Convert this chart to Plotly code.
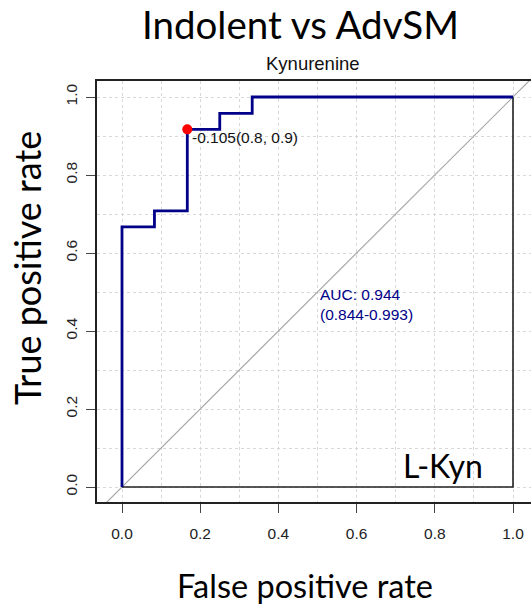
import plotly.graph_objects as go

# ROC vertices (false positive rate, true positive rate)
fpr = [0.0, 0.0, 0.083, 0.167, 0.25, 0.333, 1.0]
tpr = [0.0, 0.667, 0.708, 0.917, 0.958, 1.0, 1.0]

# best threshold point
best_fpr = [0.167]
best_tpr = [0.917]
best_label = "-0.105(0.8, 0.9)"

auc_text = ["AUC: 0.944", "(0.844-0.993)"]
tick_vals = [0.0, 0.2, 0.4, 0.6, 0.8, 1.0]
tick_text = ["0.0", "0.2", "0.4", "0.6", "0.8", "1.0"]

W, H = 531, 604
ML, MR, MT, MB = 97, 0, 81, 102
PW, PH = W - ML - MR, H - MT - MB


def px(xp):
    return (xp - ML) / PW


def py(yp):
    return (H - MB - yp) / PH


NAVY = "#000088"
CAL = "Lato, 'Open Sans', sans-serif"
ARIAL = "'Liberation Sans', Arial, sans-serif"

fig = go.Figure()

# diagonal reference line
fig.add_trace(go.Scatter(x=[-0.1, 1.2], y=[-0.1, 1.2], mode="lines",
                         line=dict(color="#a8a8a8", width=1.2), hoverinfo="skip",
                         showlegend=False))
# inner frame (bottom and right)
fig.add_trace(go.Scatter(x=[0, 1, 1], y=[0, 0, 1], mode="lines",
                         line=dict(color="#222222", width=1.6), hoverinfo="skip",
                         showlegend=False))
# ROC curve
fig.add_trace(go.Scatter(x=fpr, y=tpr, mode="lines", line_shape="hv",
                         line=dict(color=NAVY, width=2.8), showlegend=False))
# best point
fig.add_trace(go.Scatter(x=best_fpr, y=best_tpr, mode="markers",
                         marker=dict(color="#ff0000", size=10), showlegend=False))

fig.add_annotation(x=best_fpr[0], y=best_tpr[0], xref="x", yref="y",
                   text=best_label, showarrow=False, xanchor="left", yanchor="top",
                   xshift=3, yshift=2,
                   font=dict(family=ARIAL, size=15.5, color="#111111"))

fig.add_annotation(x=0.5, y=0.5, xref="x", yref="y",
                   text="<br>".join(auc_text), showarrow=False, xanchor="left",
                   yanchor="top", align="left", yshift=8,
                   font=dict(family=ARIAL, size=15.5, color=NAVY))

fig.add_annotation(x=px(443), y=py(465), xref="paper", yref="paper",
                   text="L-Kyn", showarrow=False, xanchor="center", yanchor="middle",
                   font=dict(family=CAL, size=32, color="#000000"))

# titles
fig.add_annotation(x=px(300), y=py(24), xref="paper", yref="paper",
                   text="Indolent vs AdvSM", showarrow=False, xanchor="center",
                   yanchor="middle", font=dict(family=CAL, size=38.5, color="#000000"))
fig.add_annotation(x=px(313), y=py(63), xref="paper", yref="paper",
                   text="Kynurenine", showarrow=False, xanchor="center",
                   yanchor="middle", font=dict(family=ARIAL, size=18.5, color="#111111"))
fig.add_annotation(x=px(305), y=py(585), xref="paper", yref="paper",
                   text="False positive rate", showarrow=False, xanchor="center",
                   yanchor="middle", font=dict(family=CAL, size=32.5, color="#000000"))
fig.add_annotation(x=px(27), y=py(268), xref="paper", yref="paper",
                   text="True positive rate", showarrow=False, xanchor="center",
                   yanchor="middle", textangle=-90,
                   font=dict(family=CAL, size=36, color="#000000"))

grid = dict(showgrid=True, gridcolor="#d8d8d8", griddash="dot", gridwidth=1)
minor = dict(dtick=0.1, tick0=0, showgrid=True, gridcolor="#d8d8d8",
             griddash="dot", gridwidth=1, ticks="")

fig.update_xaxes(range=[(ML - 122) / 391, (W - 122) / 391], tickvals=tick_vals,
                 ticktext=tick_text, ticks="outside", ticklen=9, tickwidth=1.3,
                 tickcolor="#444444", showline=True, linecolor="#222222",
                 linewidth=1.6, mirror=True, zeroline=False, minor=minor,
                 ticklabelstandoff=8,
                 tickfont=dict(family=ARIAL, size=15.5, color="#222222"), **grid)
fig.update_yaxes(range=[(487 - (H - MB)) / 390, (487 - MT) / 390], tickvals=tick_vals,
                 ticktext=tick_text, ticks="outside", ticklen=9, tickwidth=1.3,
                 tickcolor="#444444", showline=True, linecolor="#222222",
                 linewidth=1.6, mirror=False, zeroline=False, minor=minor,
                 tickangle=-90, ticklabelstandoff=3,
                 tickfont=dict(family=ARIAL, size=15.5, color="#222222"), **grid)

fig.update_layout(width=W, height=H, margin=dict(l=ML, r=MR, t=MT, b=MB),
                  plot_bgcolor="white", paper_bgcolor="white", showlegend=False)

fig.write_html("out.html")
